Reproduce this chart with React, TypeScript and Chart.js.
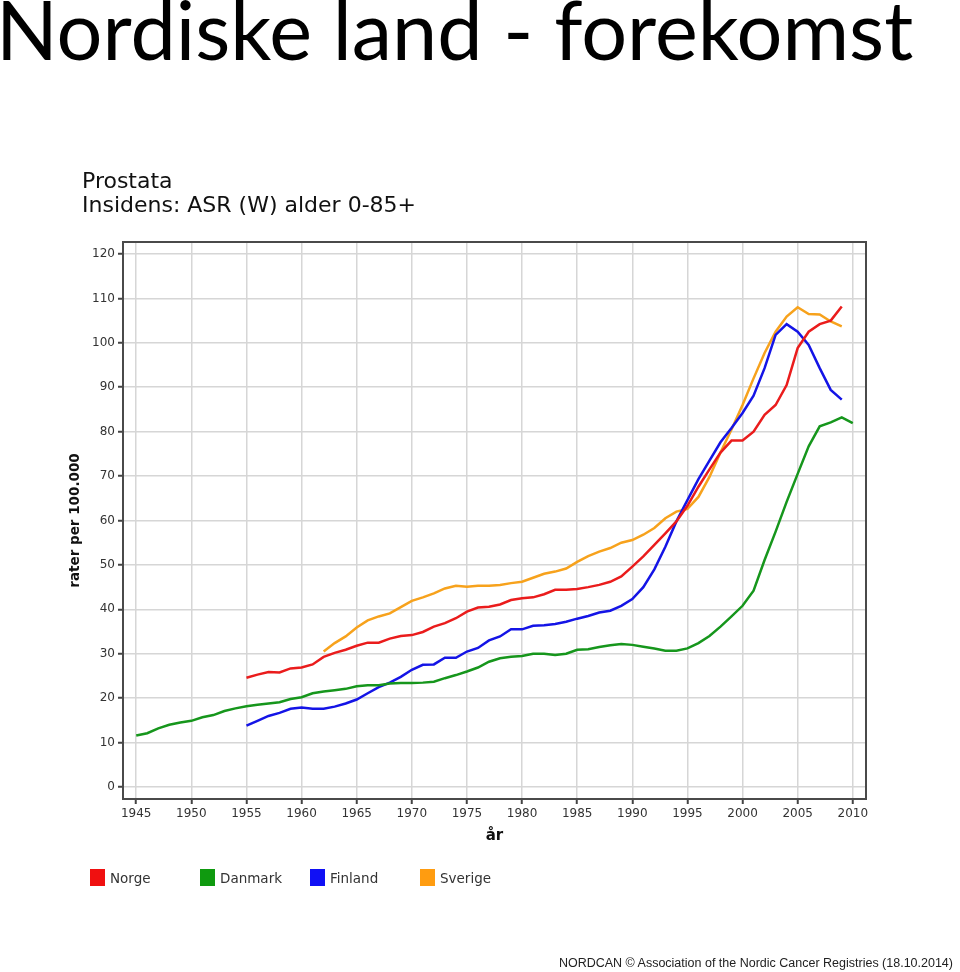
import React, { useEffect, useRef } from "react";
import { Chart, registerables } from "chart.js";

Chart.register(...registerables);

// ---------- DATA ----------
const years = [
  1945, 1946, 1947, 1948, 1949, 1950, 1951, 1952, 1953, 1954,
  1955, 1956, 1957, 1958, 1959, 1960, 1961, 1962, 1963, 1964,
  1965, 1966, 1967, 1968, 1969, 1970, 1971, 1972, 1973, 1974,
  1975, 1976, 1977, 1978, 1979, 1980, 1981, 1982, 1983, 1984,
  1985, 1986, 1987, 1988, 1989, 1990, 1991, 1992, 1993, 1994,
  1995, 1996, 1997, 1998, 1999, 2000, 2001, 2002, 2003, 2004,
  2005, 2006, 2007, 2008, 2009, 2010,
];

const norge: (number | null)[] = [
  null, null, null, null, null, null, null, null, null, null,
  24.6, 25.3, 25.9, 25.8, 26.7, 26.9, 27.6, 29.3, 30.2, 30.9,
  31.8, 32.5, 32.5, 33.4, 34.0, 34.2, 34.9, 36.1, 36.9, 38.0,
  39.5, 40.4, 40.6, 41.1, 42.1, 42.5, 42.7, 43.4, 44.4, 44.4,
  44.6, 45.0, 45.5, 46.2, 47.4, 49.6, 51.9, 54.5, 57.1, 59.8,
  63.3, 67.6, 71.5, 75.3, 78.0, 78.0, 80.0, 83.8, 86.0, 90.5,
  98.8, 102.5, 104.2, 105.0, 108.2, null,
];

const danmark: (number | null)[] = [
  11.6, 12.1, 13.2, 14.0, 14.5, 14.9, 15.7, 16.2, 17.1, 17.7,
  18.2, 18.5, 18.8, 19.1, 19.8, 20.2, 21.1, 21.5, 21.8, 22.1,
  22.7, 22.9, 22.9, 23.3, 23.4, 23.4, 23.5, 23.7, 24.5, 25.2,
  26.0, 26.9, 28.2, 29.0, 29.3, 29.5, 30.0, 30.0, 29.7, 30.0,
  30.9, 31.0, 31.5, 31.9, 32.2, 32.0, 31.6, 31.2, 30.7, 30.7,
  31.2, 32.4, 34.0, 36.1, 38.4, 40.8, 44.2, 51.1, 57.5, 64.2,
  70.5, 76.7, 81.2, 82.1, 83.2, 81.9,
];

const finland: (number | null)[] = [
  null, null, null, null, null, null, null, null, null, null,
  13.8, 14.9, 16.0, 16.7, 17.6, 17.9, 17.6, 17.6, 18.1, 18.8,
  19.7, 21.1, 22.5, 23.5, 24.8, 26.4, 27.5, 27.6, 29.1, 29.1,
  30.5, 31.3, 33.0, 33.9, 35.5, 35.5, 36.3, 36.4, 36.7, 37.2,
  37.9, 38.5, 39.3, 39.7, 40.8, 42.3, 45.0, 49.0, 54.1, 59.8,
  64.6, 69.3, 73.5, 77.6, 80.8, 84.2, 88.1, 94.3, 101.8, 104.2,
  102.5, 99.5, 94.3, 89.4, 87.2, null,
];

const sverige: (number | null)[] = [
  null, null, null, null, null, null, null, null, null, null,
  null, null, null, null, null, null, null, 30.5, 32.4, 33.9,
  35.9, 37.5, 38.4, 39.1, 40.5, 41.9, 42.7, 43.6, 44.7, 45.3,
  45.1, 45.3, 45.3, 45.5, 45.9, 46.2, 47.1, 48.0, 48.5, 49.2,
  50.7, 52.0, 53.0, 53.8, 55.0, 55.6, 56.8, 58.3, 60.5, 62.0,
  62.6, 65.3, 69.8, 75.3, 80.5, 86.0, 92.0, 97.7, 102.5, 105.9,
  108.0, 106.5, 106.4, 104.8, 103.7, null,
];

const seriesNames = ["Norge", "Danmark", "Finland", "Sverige"];
const seriesValues = [norge, danmark, finland, sverige];
const seriesColors = ["#ea1c1c", "#16961c", "#1414e6", "#f7a21c"];
const legendColors = ["#f01010", "#0f9a0f", "#1010f5", "#ff9c10"];

const mainTitle = "Nordiske land - forekomst";
const subTitle1 = "Prostata";
const subTitle2 = "Insidens: ASR (W) alder 0-85+";
const yTitle = "rater per 100.000";
const xTitle = "år";
const footer = "NORDCAN © Association of the Nordic Cancer Registries (18.10.2014)";

const TICK_FONT = "'DejaVu Sans', sans-serif";

const framePlugin = {
  id: "frame",
  beforeDatasetsDraw(chart: any) {
    const { ctx, chartArea } = chart;
    const { left, top, right, bottom } = chartArea;
    ctx.save();
    ctx.strokeStyle = "#4a4a4a";
    ctx.lineWidth = 2;
    ctx.strokeRect(left, top, right - left, bottom - top);
    ctx.restore();
  },
};

export default function App() {
  const canvasRef = useRef<HTMLCanvasElement | null>(null);

  useEffect(() => {
    if (!canvasRef.current) return;
    const chart = new Chart(canvasRef.current, {
      type: "line",
      data: {
        datasets: seriesNames.map((name, s) => ({
          label: name,
          data: years.map((yr, i) => ({ x: yr, y: seriesValues[s][i] })),
          borderColor: seriesColors[s],
          backgroundColor: seriesColors[s],
          borderWidth: 2.5,
          pointRadius: 0,
          tension: 0,
          spanGaps: false,
        })),
      } as any,
      options: {
        responsive: false,
        animation: false,
        layout: { padding: { left: 63, top: 242, right: 94, bottom: 123 } },
        plugins: {
          legend: { display: false },
          tooltip: { enabled: false },
          title: { display: false },
        },
        scales: {
          x: {
            type: "linear",
            min: 1943.8,
            max: 2011.2,
            afterFit: (scale: any) => {
              scale.height = 50;
            },
            border: { display: false },
            grid: {
              color: "#d6d6d6",
              lineWidth: 1.5,
              drawTicks: true,
              tickLength: 5,
              tickColor: "#444",
              tickWidth: 2,
            },
            ticks: {
              stepSize: 5,
              includeBounds: false,
              autoSkip: false,
              maxRotation: 0,
              padding: 3,
              color: "#333",
              font: { family: TICK_FONT, size: 12 },
              callback: (v: any) => String(v),
            },
            title: {
              display: true,
              text: xTitle,
              color: "#111",
              font: { family: TICK_FONT, size: 15, weight: "bold" },
              padding: { top: 4, bottom: 4 },
            },
          },
          y: {
            type: "linear",
            min: -2.7,
            max: 122.7,
            afterFit: (scale: any) => {
              scale.width = 60;
            },
            border: { display: false },
            grid: {
              color: "#d6d6d6",
              lineWidth: 1.5,
              drawTicks: true,
              tickLength: 5,
              tickColor: "#444",
              tickWidth: 2,
            },
            ticks: {
              stepSize: 10,
              includeBounds: false,
              padding: 3,
              color: "#333",
              font: { family: TICK_FONT, size: 12 },
              callback: (v: any) => String(v),
            },
            title: {
              display: true,
              text: yTitle,
              color: "#111",
              font: { family: TICK_FONT, size: 13.5, weight: "bold" },
              padding: { top: 4, bottom: 4 },
            },
          },
        },
      } as any,
      plugins: [framePlugin],
    });
    return () => chart.destroy();
  }, []);

  return (
    <div style={{ position: "absolute", left: 0, top: 0, width: 960, height: 972, overflow: "hidden", background: "#fff" }}>
      <canvas
        ref={canvasRef}
        width={960}
        height={972}
        style={{ position: "absolute", left: 0, top: 0, width: 960, height: 972 }}
      />
      <div
        style={{
          position: "absolute",
          left: -4,
          top: -12,
          fontFamily: "Lato, sans-serif",
          fontSize: 81,
          lineHeight: 1,
          color: "#000",
          whiteSpace: "nowrap",
        }}
      >
        {mainTitle}
      </div>
      <div
        style={{
          position: "absolute",
          left: 82,
          top: 169,
          fontFamily: "'DejaVu Sans', sans-serif",
          fontSize: 22,
          lineHeight: "24px",
          color: "#111",
          whiteSpace: "nowrap",
        }}
      >
        <div>{subTitle1}</div>
        <div>{subTitle2}</div>
      </div>
      {seriesNames.map((name, i) => (
        <div
          key={name}
          style={{
            position: "absolute",
            left: 90 + i * 110,
            top: 869,
            height: 17,
            display: "flex",
            alignItems: "center",
            fontFamily: TICK_FONT,
            fontSize: 13.5,
            color: "#333",
            whiteSpace: "nowrap",
          }}
        >
          <span style={{ display: "inline-block", width: 15, height: 17, background: legendColors[i], marginRight: 5 }} />
          <span>{name}</span>
        </div>
      ))}
      <div
        style={{
          position: "absolute",
          right: 7,
          top: 955,
          fontFamily: "'Liberation Sans', Arial, sans-serif",
          fontSize: 12.5,
          lineHeight: "16px",
          color: "#222",
          whiteSpace: "nowrap",
        }}
      >
        {footer}
      </div>
    </div>
  );
}
